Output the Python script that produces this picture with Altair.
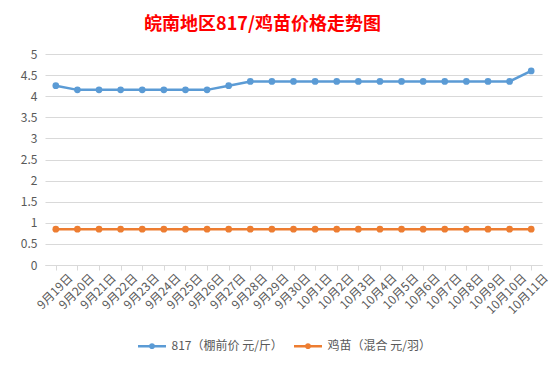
import altair as alt
import pandas as pd

dates = ["9月19日", "9月20日", "9月21日", "9月22日", "9月23日", "9月24日", "9月25日",
         "9月26日", "9月27日", "9月28日", "9月29日", "9月30日", "10月1日", "10月2日",
         "10月3日", "10月4日", "10月5日", "10月6日", "10月7日", "10月8日", "10月9日",
         "10月10日", "10月11日"]
s817 = [4.25, 4.15, 4.15, 4.15, 4.15, 4.15, 4.15, 4.15, 4.25, 4.35, 4.35, 4.35,
        4.35, 4.35, 4.35, 4.35, 4.35, 4.35, 4.35, 4.35, 4.35, 4.35, 4.6]
chick = [0.85] * 23
series_names = ["817（棚前价 元/斤）", "鸡苗（混合 元/羽）"]
colors = ["#5B9BD5", "#ED7D31"]
y_ticks = [0, 0.5, 1, 1.5, 2, 2.5, 3, 3.5, 4, 4.5, 5]

rows = []
for d, a, b in zip(dates, s817, chick):
    rows.append({"date": d, "series": series_names[0], "value": a})
    rows.append({"date": d, "series": series_names[1], "value": b})
df = pd.DataFrame(rows)

font = "Noto Sans CJK SC"
sym = ("M-1.6,0 L1.6,0 "
       "M-0.2,0 A0.2,0.2 0 1,0 0.2,0 A0.2,0.2 0 1,0 -0.2,0 Z")

x = alt.X("date:N", sort=dates, title=None,
          scale=alt.Scale(paddingInner=0, paddingOuter=0),
          axis=alt.Axis(labelAngle=-45, labelFontSize=12, labelColor="#595959",
                        labelFont=font, domainColor="#D9D9D9", tickColor="#D9D9D9",
                        tickSize=5, bandPosition=0, labelOffset=10.8, grid=False,
                        labelPadding=2))
y = alt.Y("value:Q", title=None,
          scale=alt.Scale(domain=[0, 5], nice=False),
          axis=alt.Axis(values=y_ticks, format="~g", labelFontSize=12,
                        labelColor="#595959", labelFont=font, domain=False,
                        ticks=False, gridColor="#D9D9D9", labelPadding=8))
color = alt.Color("series:N", sort=series_names,
                  scale=alt.Scale(domain=series_names, range=colors),
                  legend=alt.Legend(title=None, orient="none", direction="horizontal",
                                    legendX=97, legendY=282, symbolType=sym,
                                    symbolSize=306, symbolStrokeWidth=2.5,
                                    labelOffset=9.5,
                                    labelFontSize=12, labelColor="#595959",
                                    labelFont=font, columnPadding=6))

chart = alt.Chart(df).mark_line(
    strokeWidth=2.5,
    point=alt.OverlayMarkDef(filled=True, size=45, opacity=1)
).encode(x=x, y=y, color=color).properties(
    width=497, height=211,
    title=alt.Title("皖南地区817/鸡苗价格走势图", color="#FF0000", fontSize=18,
                    font=font, fontWeight="bold", offset=14, dx=-31),
    autosize=alt.AutoSizeParams(type="none"),
    padding={"left": 37, "top": 46, "right": 10, "bottom": 96},
).configure_view(stroke=None)

chart.save("out.html", embed_options={"renderer": "svg", "actions": False})
